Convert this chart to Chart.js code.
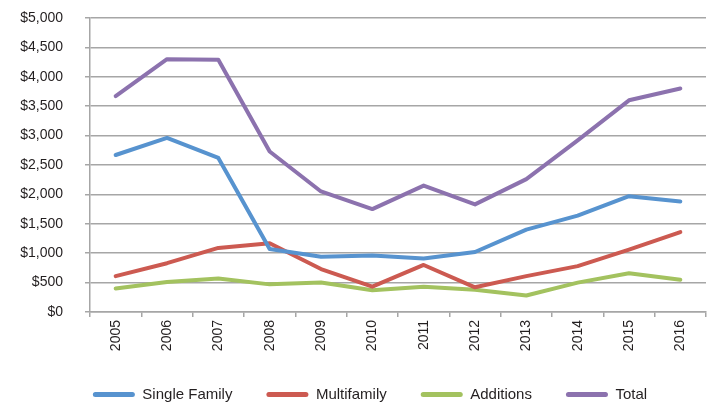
<!DOCTYPE html>
<html>
<head>
<meta charset="utf-8">
<script src="https://cdn.jsdelivr.net/npm/chart.js@4/dist/chart.umd.min.js"></script>
<style>
    html, body { margin: 0; padding: 0; background: #fff; }
    #chartBox { width: 710px; height: 402px; }
</style>
</head>
<body>
<div id="chartBox"><canvas id="lineCanvas"></canvas></div>
<script>
const years = ['2005', '2006', '2007', '2008', '2009', '2010', '2011', '2012', '2013', '2014', '2015', '2016']
const singleFamily = [2670, 2960, 2620, 1070, 940, 960, 910, 1020, 1400, 1640, 1970, 1880]
const multifamily = [610, 830, 1090, 1170, 730, 430, 800, 420, 610, 780, 1060, 1360]
const additions = [400, 510, 570, 470, 500, 370, 430, 380, 280, 500, 660, 550]
const total = [3670, 4300, 4290, 2730, 2050, 1750, 2150, 1830, 2260, 2920, 3600, 3800]

const gridGray = '#a6a6a6'
const textColor = '#231f20'
const fontFamily = '"Liberation Sans", Arial, sans-serif'

function makeSet(label, data, color) {
    return {
        label: label,
        data: data,
        borderColor: color,
        backgroundColor: color,
        borderWidth: 4,
        borderCapStyle: 'round',
        borderJoinStyle: 'round',
        pointRadius: 0,
        tension: 0
    }
}

// legend in the original sits a bit right of the page centre
const legendShift = {
    id: 'legendShift',
    afterLayout(chart) {
        if (chart.legend) {
            chart.legend.left += 17
            chart.legend.right += 17
        }
    }
}

let canvas = document.getElementById('lineCanvas')
new Chart(canvas, {
    type: 'line',
    data: {
        labels: years,
        datasets: [
            makeSet('Single Family', singleFamily, '#5793cf'),
            makeSet('Multifamily', multifamily, '#cc5a51'),
            makeSet('Additions', additions, '#a3c25f'),
            makeSet('Total', total, '#8c72ae')
        ]
    },
    plugins: [legendShift],
    options: {
        responsive: true,
        maintainAspectRatio: false,
        animation: false,
        layout: {
            padding: { top: 18, right: 4, left: 0, bottom: -10 }
        },
        plugins: {
            tooltip: { enabled: false },
            legend: {
                position: 'bottom',
                labels: {
                    color: textColor,
                    font: { family: fontFamily, size: 15 },
                    boxWidth: 42,
                    boxHeight: 5,
                    padding: 34,
                    generateLabels(chart) {
                        return chart.data.datasets.map((ds, i) => ({
                            text: ds.label,
                            fillStyle: ds.borderColor,
                            strokeStyle: ds.borderColor,
                            lineWidth: 0,
                            borderRadius: 2.5,
                            fontColor: textColor,
                            datasetIndex: i
                        }))
                    }
                }
            }
        },
        scales: {
            x: {
                offset: true,
                border: { color: gridGray, width: 1.5 },
                grid: {
                    offset: true,
                    drawOnChartArea: false,
                    drawTicks: true,
                    tickLength: 5,
                    color: gridGray,
                    lineWidth: 1.5
                },
                ticks: {
                    color: textColor,
                    font: { family: fontFamily, size: 14 },
                    minRotation: 90,
                    maxRotation: 90,
                    padding: 3,
                    autoSkip: false
                },
                afterFit(scale) {
                    scale.height = 41
                }
            },
            y: {
                min: 0,
                max: 5000,
                border: { color: gridGray, width: 1.5 },
                grid: {
                    color: gridGray,
                    lineWidth: 1.5,
                    drawTicks: true,
                    tickLength: 5
                },
                ticks: {
                    stepSize: 500,
                    color: textColor,
                    font: { family: fontFamily, size: 14 },
                    padding: 22,
                    callback: (v) => '$' + v.toLocaleString('en-US')
                },
                afterFit(scale) {
                    scale.width = 90
                    scale.paddingTop = 9
                    scale.paddingBottom = 9
                }
            }
        }
    }
})
</script>
</body>
</html>
